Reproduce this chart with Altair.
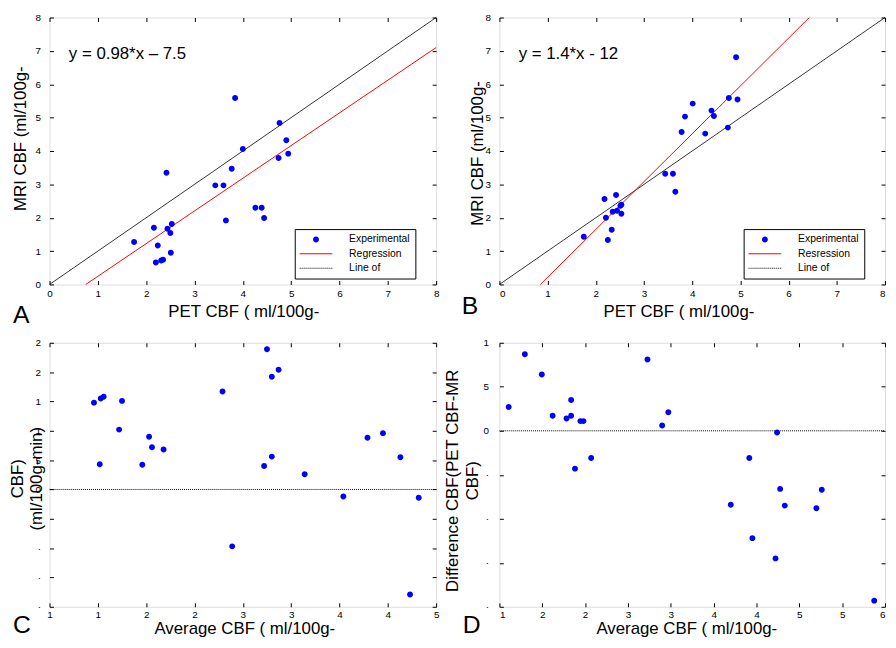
import json
import altair as alt
import pandas as pd

FONT = "Liberation Sans"
BLUE = "#0000ff"
RED = "#ff0000"
BLACK = "#000000"

# ---------------- data ----------------
pet_a = [1.75, 2.16, 2.24, 2.20, 2.31, 2.35, 2.42, 2.44, 2.50, 2.53, 2.51, 3.43,
         3.60, 3.65, 3.77, 3.84, 4.00, 4.26, 4.39, 4.44, 4.74, 4.76, 4.90, 4.94]
mri_a = [1.27, 1.70, 1.17, 0.66, 0.72, 0.74, 3.35, 1.67, 1.54, 1.81, 0.95, 2.97,
         2.97, 1.92, 3.47, 5.59, 4.06, 2.30, 2.30, 1.99, 3.79, 4.84, 4.32, 3.92]

pet_b = [1.75, 2.18, 2.21, 2.25, 2.33, 2.35, 2.42, 2.44, 2.51, 2.53, 2.53, 3.44,
         3.60, 3.65, 3.78, 3.85, 4.01, 4.27, 4.40, 4.45, 4.74, 4.76, 4.91, 4.94]
mri_b = [1.43, 2.56, 2.00, 1.33, 1.64, 2.18, 2.68, 2.21, 2.36, 2.39, 2.12, 3.32,
         3.32, 2.78, 4.57, 5.03, 5.42, 4.52, 5.21, 5.05, 4.70, 5.59, 6.81, 5.54]

avg_c = [1.46, 1.52, 1.53, 1.56, 1.72, 1.75, 1.96, 2.03, 2.06, 2.18, 2.79, 2.89,
         3.22, 3.25, 3.30, 3.30, 3.37, 3.64, 4.04, 4.29, 4.45, 4.63, 4.73, 4.82]
diff_c = [1.48, 0.43, 1.55, 1.58, 1.02, 1.51, 0.42, 0.90, 0.72, 0.68, 1.67, -0.97,
          0.40, 2.39, 0.56, 1.92, 2.04, 0.26, -0.12, 0.88, 0.96, 0.55, -1.79, -0.14]

avg_d = [1.12, 1.33, 1.55, 1.69, 1.87, 1.93, 1.93, 1.98, 2.05, 2.09, 2.19, 2.92,
         3.11, 3.19, 4.00, 4.24, 4.28, 4.58, 4.60, 4.64, 4.70, 5.11, 5.18, 5.86]
diff_d = [0.27, 0.87, 0.64, 0.17, 0.14, 0.35, 0.17, -0.43, 0.11, 0.11, -0.31, 0.81,
          0.06, 0.21, -0.84, -0.31, -1.22, -1.45, -0.02, -0.66, -0.85, -0.88, -0.67, -1.93]

reg_a_x = [0.75, 8.0]
reg_a_y = [0.0, 7.1]
reg_b_x = [0.85, 6.43]
reg_b_y = [0.0, 8.0]
ident_x = [0.0, 8.0]
ident_y = [0.0, 8.0]
zero_c_x = [1.0, 5.0]
zero_d_x = [1.0, 6.0]
zero_y = [0.0, 0.0]

legend_a = ["Experimental", "Regression", "Line of"]
legend_b = ["Experimental", "Resression", "Line of"]
eq_a = "y = 0.98*x \u2013 7.5"
eq_b = "y = 1.4*x - 12"

ab_ticks = [0, 1, 2, 3, 4, 5, 6, 7, 8]
c_x_ticks = [1, 1.5, 2, 2.5, 3, 3.5, 4, 4.5, 5]
c_x_labels = ["1", "1", "2", "2", "3", "3", "4", "4", "5"]
c_y_ticks = [-2, -1.5, -1, -0.5, 0, 0.5, 1, 1.5, 2, 2.5]
c_y_labels = ["\u00b7", "\u00b7", "\u00b7", "\u00b7", "0", "5", "1", "1", "2", "2"]
d_x_ticks = [1, 1.5556, 2.1111, 2.6667, 3.2222, 3.7778, 4.3333, 4.8889, 5.4444, 6]
d_x_labels = ["1", "2", "2", "3", "3", "4", "4", "5", "5", "6"]
d_y_ticks = [-2, -1.5, -1, -0.5, 0, 0.5, 1]
d_y_labels = ["\u00b7", "\u00b7", "\u00b7", "\u00b7", "0", "5", "1"]

# ---------------- legend symbols (custom paths) ----------------
CIRCLE = "M0.545,0A0.545,0.545,0,1,1,-0.545,0A0.545,0.545,0,1,1,0.545,0Z"
LINE = "M-3,-0.09H3V0.09H-3Z"
DOTS = "".join(
    f"M{-3 + i * 0.3636:.4f},-0.09h0.1818v0.18h-0.1818Z" for i in range(17)
)

WA, WB = 391, 390
HT, HB = 270, 267


def label_expr(values, labels):
    step = (values[-1] - values[0]) / (len(values) - 1)
    return f"{json.dumps(labels)}[round((datum.value - ({values[0]})) / {step})]"


def axis(orient, values, title=None, labels=True, expr=None, pad=4,
         title_x=None, title_y=None, line_h=None, flush=False):
    kw = dict(orient=orient, values=values, offset=-4, tickSize=4, tickColor=BLACK,
              tickWidth=1, domain=False, grid=False, labels=labels,
              labelFlush=flush, labelOverlap=False, labelFont=FONT,
              labelFontSize=10, labelColor=BLACK, labelPadding=pad)
    if expr is not None:
        kw["labelExpr"] = expr
    if title is None:
        kw["title"] = None
    else:
        kw.update(title=title, titleFont=FONT, titleFontSize=17,
                  titleFontWeight="normal", titleColor=BLACK,
                  titleBaseline="alphabetic")
        if title_x is not None:
            kw["titleX"] = title_x
        if title_y is not None:
            kw["titleY"] = title_y
        if line_h is not None:
            kw["titleLineHeight"] = line_h
    return alt.Axis(**kw)


def make_legend(x, y):
    return alt.Legend(
        title=None, orient="none", legendX=x, legendY=y,
        strokeColor=BLACK, fillColor="white", padding=5,
        symbolSize=121, symbolStrokeWidth=0, symbolOffset=11,
        labelOffset=28, labelFont=FONT, labelFontSize=10.5, labelColor=BLACK,
        rowPadding=3.5, labelExpr="datum.label + '        '",
    )


def letter(t, x, y):
    return alt.Chart(pd.DataFrame({"t": [t]})).mark_text(
        font=FONT, fontSize=25, align="left", baseline="alphabetic", color=BLACK
    ).encode(text="t:N", x=alt.value(x), y=alt.value(y))


def scatter_panel(px, py, reg_x, reg_y, names, eq, let, leg_xy, ytitle_x, ytitle_y,
                  xtitle_x, let_xy, width, flush=False):
    xs = alt.Scale(domain=[0, 8], nice=False, zero=False)
    ys = alt.Scale(domain=[0, 8], nice=False, zero=False)
    pts = pd.DataFrame({"x": px, "y": py, "series": names[0]})
    reg = pd.DataFrame({"x": reg_x, "y": reg_y})
    idl = pd.DataFrame({"x": ident_x, "y": ident_y})
    leg = make_legend(*leg_xy)

    ident = alt.Chart(idl).mark_line(color=BLACK, strokeWidth=0.8).encode(
        x=alt.X("x:Q", scale=xs, axis=axis("top", ab_ticks, labels=False)),
        y=alt.Y("y:Q", scale=ys, axis=axis("right", ab_ticks, labels=False)),
    )
    regl = alt.Chart(reg).mark_line(color=RED, strokeWidth=1).encode(
        x=alt.X("x:Q", scale=xs, axis=None),
        y=alt.Y("y:Q", scale=ys, axis=None),
    )
    points = alt.Chart(pts).mark_point(filled=True, size=121, opacity=1).encode(
        x=alt.X("x:Q", scale=xs,
                axis=axis("bottom", ab_ticks, title="PET CBF ( ml/100g-", pad=4,
                          title_x=xtitle_x, title_y=36, flush=flush)),
        y=alt.Y("y:Q", scale=ys,
                axis=axis("left", ab_ticks, title="MRI CBF (ml/100g-", pad=9,
                          title_x=ytitle_x, title_y=ytitle_y)),
        color=alt.Color("series:N", scale=alt.Scale(domain=names,
                                                    range=[BLUE, RED, BLACK]),
                        legend=leg),
        shape=alt.Shape("series:N", scale=alt.Scale(domain=names,
                                                    range=[CIRCLE, LINE, DOTS]),
                        legend=leg),
    )
    eqt = alt.Chart(pd.DataFrame({"x": [0.4], "y": [6.76], "t": [eq]})).mark_text(
        font=FONT, fontSize=17, align="left", baseline="alphabetic", color=BLACK
    ).encode(x=alt.X("x:Q", scale=xs, axis=None),
             y=alt.Y("y:Q", scale=ys, axis=None), text="t:N")
    return alt.layer(ident, regl, points, eqt, letter(let, *let_xy)).resolve_axis(
        x="independent", y="independent").properties(width=width, height=HT)


def ba_panel(ax, ay, zx, xt, xl, yt, yl, ytitle, ytitle_x, ytitle_y, line_h,
             ypad, xtitle_x, let, let_xy, width, flush=False):
    xs = alt.Scale(domain=[xt[0], xt[-1]], nice=False, zero=False)
    ys = alt.Scale(domain=[yt[0], yt[-1]], nice=False, zero=False)
    pts = pd.DataFrame({"x": ax, "y": ay})
    zl = pd.DataFrame({"x": zx, "y": zero_y})
    zero = alt.Chart(zl).mark_line(color=BLACK, strokeWidth=1,
                                   strokeDash=[1, 1]).encode(
        x=alt.X("x:Q", scale=xs, axis=axis("top", xt, labels=False)),
        y=alt.Y("y:Q", scale=ys, axis=axis("right", yt, labels=False)),
    )
    points = alt.Chart(pts).mark_point(filled=True, size=121, opacity=1,
                                       shape=CIRCLE, color=BLUE).encode(
        x=alt.X("x:Q", scale=xs,
                axis=axis("bottom", xt, title="Average CBF ( ml/100g-",
                          expr=label_expr(xt, xl), pad=3,
                          title_x=xtitle_x, title_y=31.5, flush=flush)),
        y=alt.Y("y:Q", scale=ys,
                axis=axis("left", yt, title=ytitle, expr=label_expr(yt, yl),
                          pad=ypad, title_x=ytitle_x, title_y=ytitle_y,
                          line_h=line_h)),
    )
    return alt.layer(zero, points, letter(let, *let_xy)).resolve_axis(
        x="independent", y="independent").properties(width=width, height=HB)


pa = scatter_panel(pet_a, mri_a, reg_a_x, reg_a_y, legend_a, eq_a, "A",
                   (248, 214), -28, 122, 196, (-37, 309), WA)
pb = scatter_panel(pet_b, mri_b, reg_b_x, reg_b_y, legend_b, eq_b, "B",
                   (247, 214), -21.5, 137, 181, (-38, 300), WB, flush=True)
pc = ba_panel(avg_c, diff_c, zero_c_x, c_x_ticks, c_x_labels, c_y_ticks, c_y_labels,
              ["CBF)", "(ml/100g-min)"], -31.5, 137, 19, 9, 197, "C", (-37, 293), WA)
pd_ = ba_panel(avg_d, diff_d, zero_d_x, d_x_ticks, d_x_labels, d_y_ticks, d_y_labels,
               ["Difference CBF(PET CBF-MR", "CBF)"], -46, 139, 20, 11, 189, "D",
               (-37, 293), WB, flush=True)

chart = alt.concat(
    pa, pb, pc, pd_, columns=2, spacing={"row": 59, "column": 64}, bounds="flush",
    padding={"left": 0, "top": 0, "right": 0, "bottom": 0},
    background="white",
).resolve_scale(
    color="independent", shape="independent"
).resolve_legend(
    color="independent", shape="independent"
).configure_view(
    stroke=BLACK, strokeWidth=1.3
).configure(font=FONT)

chart.save("out.html", embed_options={"renderer": "svg", "actions": False})
